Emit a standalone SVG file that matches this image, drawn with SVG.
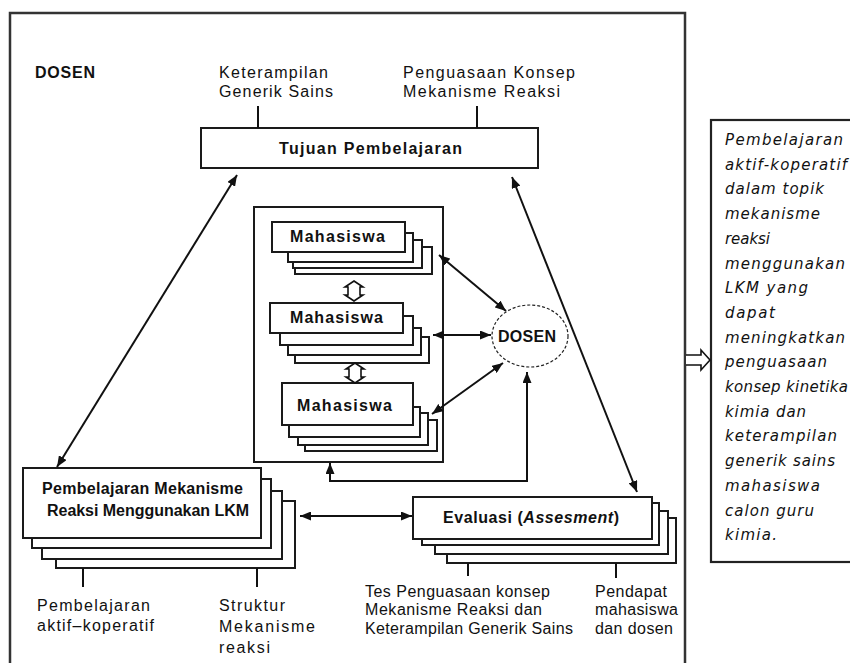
<svg xmlns="http://www.w3.org/2000/svg" width="850" height="663" viewBox="0 0 850 663">
<style>
.box{fill:#fff;stroke:#1a1a1a;stroke-width:2}
.lbl{font-family:"Liberation Sans",Arial,sans-serif;font-size:16px;fill:#111}
.bold{font-family:"Liberation Sans",Arial,sans-serif;font-size:16px;font-weight:bold;fill:#111}
.ital{font-family:"DejaVu Sans","Liberation Sans",sans-serif;font-size:15px;font-style:italic;fill:#111}
.con{fill:none;stroke:#111;stroke-width:2}
.tick{stroke:#111;stroke-width:2}
</style>
<defs>
<marker id="ah" markerUnits="userSpaceOnUse" markerWidth="11" markerHeight="9" refX="11" refY="4.5" orient="auto-start-reverse">
<path d="M0,0 L11,4.5 L0,9 z" fill="#111"/>
</marker>
</defs>
<rect width="850" height="663" fill="#fff"/>
<rect x="10" y="13" width="675" height="700" fill="none" stroke="#333" stroke-width="2.5"/>
<g id="dosen-label"><text class="bold" x="35" y="78" textLength="60" lengthAdjust="spacing">DOSEN</text></g>
<g id="label-keterampilan">
<text class="lbl" x="219" y="78" textLength="109" lengthAdjust="spacing">Keterampilan</text>
<text class="lbl" x="219" y="97" textLength="114" lengthAdjust="spacing">Generik Sains</text>
</g>
<g id="label-penguasaan">
<text class="lbl" x="403" y="78" textLength="172" lengthAdjust="spacing">Penguasaan Konsep</text>
<text class="lbl" x="403" y="97" textLength="157" lengthAdjust="spacing">Mekanisme Reaksi</text>
</g>
<g id="tujuan">
<rect class="box" x="201" y="128" width="337" height="40"/>
<text class="bold" x="279" y="154" font-size="17" textLength="183" lengthAdjust="spacing">Tujuan Pembelajaran</text>
</g>
<g id="kelompok">
<rect class="box" x="254" y="207" width="189" height="255"/>
</g>
<g id="mahasiswa1">
<rect class="box" x="295" y="247" width="137" height="27"/>
<rect class="box" x="293" y="240" width="129" height="28"/>
<rect class="box" x="288" y="233" width="125" height="29"/>
<rect class="box" x="272" y="222" width="133" height="30"/>
<text class="bold" x="290" y="242" font-size="17" textLength="95" lengthAdjust="spacing">Mahasiswa</text>
</g>
<g id="mahasiswa2">
<rect class="box" x="295" y="337" width="134" height="26"/>
<rect class="box" x="288" y="328" width="133" height="27"/>
<rect class="box" x="280" y="316" width="133" height="29"/>
<rect class="box" x="270" y="303" width="133" height="30"/>
<text class="bold" x="290" y="323" font-size="17" textLength="93" lengthAdjust="spacing">Mahasiswa</text>
</g>
<g id="mahasiswa3">
<rect class="box" x="305" y="420" width="132" height="31"/>
<rect class="box" x="298" y="413" width="130" height="32"/>
<rect class="box" x="289" y="407" width="131" height="30"/>
<rect class="box" x="282" y="383" width="131" height="42"/>
<text class="bold" x="297" y="411" font-size="17" textLength="95" lengthAdjust="spacing">Mahasiswa</text>
</g>
<g id="dosen">
<ellipse cx="530" cy="336" rx="38" ry="31" fill="#fff" stroke="#222" stroke-width="1.2" stroke-dasharray="3 2"/>
<text class="bold" x="498" y="342" textLength="58" lengthAdjust="spacing">DOSEN</text>
</g>
<g id="pembelajaran">
<rect class="box" x="56" y="501" width="239" height="67"/>
<rect class="box" x="42" y="491" width="240" height="68"/>
<rect class="box" x="32" y="479" width="239" height="69"/>
<rect class="box" x="23" y="468" width="238" height="70"/>
<text class="bold" x="42" y="494" textLength="201" lengthAdjust="spacing">Pembelajaran Mekanisme</text>
<text class="bold" x="47" y="516" textLength="202" lengthAdjust="spacing">Reaksi Menggunakan LKM</text>
</g>
<g id="evaluasi">
<rect class="box" x="447" y="518" width="229" height="45"/>
<rect class="box" x="435" y="511" width="233" height="43"/>
<rect class="box" x="422" y="503" width="237" height="42"/>
<rect class="box" x="413" y="497" width="239" height="42"/>
<text class="bold" x="443" y="523" font-size="17" textLength="176" lengthAdjust="spacing">Evaluasi (<tspan font-style="italic">Assesment</tspan>)</text>
</g>
<g id="label-pembelajaran-aktif">
<text class="lbl" x="37" y="611" textLength="113" lengthAdjust="spacing">Pembelajaran</text>
<text class="lbl" x="37" y="631" textLength="117" lengthAdjust="spacing">aktif–koperatif</text>
</g>
<g id="label-struktur">
<text class="lbl" x="219" y="611" textLength="66" lengthAdjust="spacing">Struktur</text>
<text class="lbl" x="219" y="632" textLength="96" lengthAdjust="spacing">Mekanisme</text>
<text class="lbl" x="219" y="653" textLength="51" lengthAdjust="spacing">reaksi</text>
</g>
<g id="label-tes">
<text class="lbl" x="365" y="597" textLength="185" lengthAdjust="spacing">Tes Penguasaan konsep</text>
<text class="lbl" x="365" y="615" textLength="177" lengthAdjust="spacing">Mekanisme Reaksi dan</text>
<text class="lbl" x="365" y="634" textLength="208" lengthAdjust="spacing">Keterampilan Generik Sains</text>
</g>
<g id="label-pendapat">
<text class="lbl" x="595" y="597" textLength="72" lengthAdjust="spacing">Pendapat</text>
<text class="lbl" x="595" y="615" textLength="83" lengthAdjust="spacing">mahasiswa</text>
<text class="lbl" x="595" y="634" textLength="78" lengthAdjust="spacing">dan dosen</text>
</g>
<g id="kesimpulan">
<rect x="711" y="120" width="160" height="442" fill="#fff" stroke="#222" stroke-width="2.2"/>
<text class="ital" x="725" y="145" textLength="118" lengthAdjust="spacing">Pembelajaran</text>
<text class="ital" x="725" y="169.7" textLength="122" lengthAdjust="spacing">aktif-koperatif</text>
<text class="ital" x="725" y="194.4" textLength="99" lengthAdjust="spacing">dalam topik</text>
<text class="ital" x="725" y="219.1" textLength="95" lengthAdjust="spacing">mekanisme</text>
<text class="ital" x="725" y="243.8" textLength="45" lengthAdjust="spacing">reaksi</text>
<text class="ital" x="725" y="268.5" textLength="120" lengthAdjust="spacing">menggunakan</text>
<text class="ital" x="725" y="293.2" textLength="83" lengthAdjust="spacing">LKM yang</text>
<text class="ital" x="725" y="317.9" textLength="50" lengthAdjust="spacing">dapat</text>
<text class="ital" x="725" y="342.6" textLength="120" lengthAdjust="spacing">meningkatkan</text>
<text class="ital" x="725" y="367.3" textLength="102" lengthAdjust="spacing">penguasaan</text>
<text class="ital" x="725" y="392" textLength="123" lengthAdjust="spacing">konsep kinetika</text>
<text class="ital" x="725" y="416.7" textLength="81" lengthAdjust="spacing">kimia dan</text>
<text class="ital" x="725" y="441.4" textLength="112" lengthAdjust="spacing">keterampilan</text>
<text class="ital" x="725" y="466.1" textLength="110" lengthAdjust="spacing">generik sains</text>
<text class="ital" x="725" y="490.8" textLength="95" lengthAdjust="spacing">mahasiswa</text>
<text class="ital" x="725" y="515.5" textLength="89" lengthAdjust="spacing">calon guru</text>
<text class="ital" x="725" y="540.2" textLength="52" lengthAdjust="spacing">kimia.</text>
</g>
<g id="connectors">
<line class="tick" x1="258" y1="106" x2="258" y2="128"/>
<line class="tick" x1="477" y1="106" x2="477" y2="128"/>
<line class="tick" x1="83" y1="568" x2="83" y2="587"/>
<line class="tick" x1="257" y1="568" x2="257" y2="587"/>
<line class="tick" x1="468" y1="563" x2="468" y2="576"/>
<line class="tick" x1="616" y1="563" x2="616" y2="578"/>
<line class="con" x1="237" y1="175" x2="57" y2="467" marker-start="url(#ah)" marker-end="url(#ah)"/>
<line class="con" x1="512" y1="177" x2="637" y2="492" marker-start="url(#ah)" marker-end="url(#ah)"/>
<line class="con" x1="300" y1="516" x2="412" y2="516" marker-start="url(#ah)" marker-end="url(#ah)"/>
<line class="con" x1="439" y1="255" x2="506" y2="311" marker-start="url(#ah)" marker-end="url(#ah)"/>
<line class="con" x1="433" y1="335" x2="491" y2="335" marker-start="url(#ah)" marker-end="url(#ah)"/>
<line class="con" x1="432" y1="414" x2="503" y2="363" marker-start="url(#ah)" marker-end="url(#ah)"/>
<path class="con" d="M527,372 V481 H330 V463" marker-start="url(#ah)" marker-end="url(#ah)"/>
<path d="M354,281 L363,287 H360 V295 H363 L354,301 L345,295 H348 V287 H345 Z" fill="#fff" stroke="#111" stroke-width="1.6"/>
<path d="M355,363 L364,369 H361 V377 H364 L355,383 L346,377 H349 V369 H346 Z" fill="#fff" stroke="#111" stroke-width="1.6"/>
<path d="M686,355 H701 V350 L710,360 L701,370 V365 H686" fill="#fff" stroke="#111" stroke-width="1.6"/>
</g>
</svg>
